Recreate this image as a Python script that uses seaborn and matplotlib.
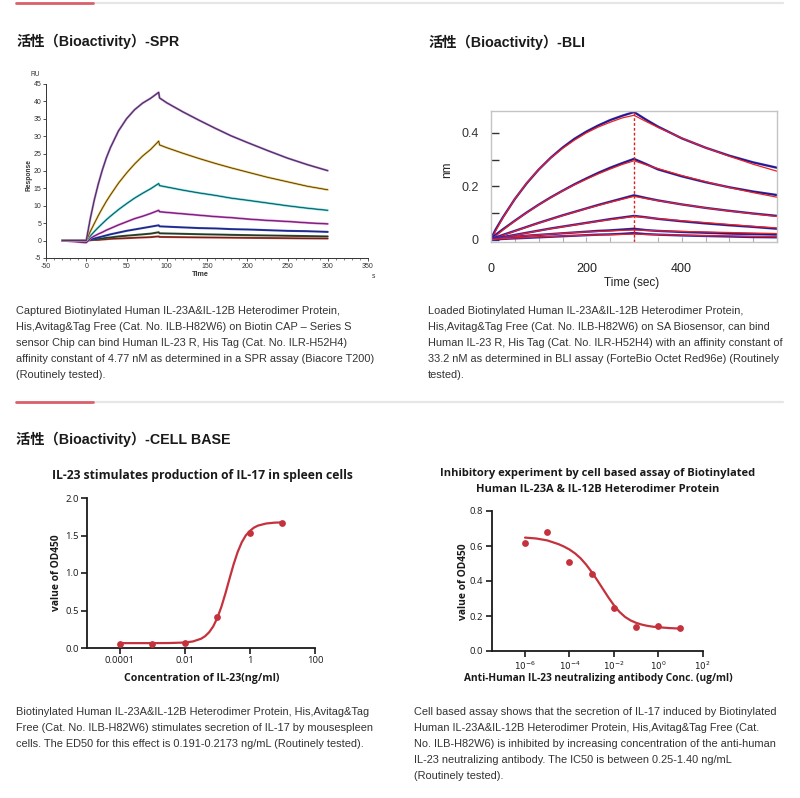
import matplotlib
matplotlib.use("Agg")
import matplotlib.pyplot as plt
from matplotlib.lines import Line2D
from matplotlib.ticker import MultipleLocator, FixedLocator, NullLocator
import seaborn as sns

# ---------------- data ----------------
# SPR sensorgram (Biacore), time in s, response in RU
spr_time = [-30, 0, 5, 10, 15, 20, 25, 30, 40, 50, 60, 70, 80, 90, 91,
            100, 120, 140, 160, 180, 200, 225, 250, 275, 300]
spr_c1 = [0, 0, 6.3, 11.7, 16.3, 20.3, 23.8, 26.7, 31.5, 35.0, 37.6, 39.5, 40.9, 42.6, 41.0,
          39.6, 37.0, 34.6, 32.3, 30.1, 28.2, 25.9, 23.7, 21.8, 20.1]
spr_c2 = [0, 0, 2.6, 4.9, 7.2, 9.3, 11.3, 13.1, 16.5, 19.4, 22.0, 24.3, 26.2, 28.6, 27.5,
          26.7, 25.1, 23.6, 22.2, 20.9, 19.7, 18.2, 16.9, 15.6, 14.6]
spr_c3 = [0, 0, 1.3, 2.6, 3.8, 4.9, 6.0, 7.0, 8.9, 10.6, 12.2, 13.6, 14.9, 16.4, 15.8,
          15.4, 14.5, 13.7, 13.0, 12.2, 11.6, 10.8, 10.0, 9.3, 8.7]
spr_c4 = [0, -0.6, 0.6, 1.3, 1.9, 2.4, 3.0, 3.5, 4.5, 5.4, 6.3, 7.0, 7.8, 8.7, 8.3,
          8.1, 7.7, 7.3, 6.9, 6.6, 6.2, 5.8, 5.5, 5.1, 4.8]
spr_c5 = [0, 0, 0.3, 0.6, 0.9, 1.2, 1.5, 1.8, 2.3, 2.8, 3.2, 3.6, 4.0, 4.4, 4.1,
          4.0, 3.8, 3.6, 3.5, 3.3, 3.2, 3.0, 2.8, 2.7, 2.5]
spr_c6 = [0, 0, 0.2, 0.3, 0.5, 0.6, 0.8, 0.9, 1.2, 1.4, 1.6, 1.8, 2.0, 2.4, 2.1,
          2.05, 1.94, 1.84, 1.75, 1.65, 1.57, 1.47, 1.38, 1.29, 1.2]
spr_c7 = [0, 0, 0.1, 0.2, 0.2, 0.3, 0.4, 0.5, 0.6, 0.7, 0.8, 0.9, 1.0, 1.2, 1.05,
          1.03, 0.98, 0.93, 0.88, 0.83, 0.79, 0.74, 0.69, 0.64, 0.6]
spr_colors = ["#a065c0", "#e5b43c", "#3ccdd5", "#d650d4", "#2b3fd0", "#3a5a3a", "#c83a2e"]

# BLI sensorgram (Octet), time in sec, shift in nm
bli_time = [0, 10, 25, 50, 75, 100, 125, 150, 175, 200, 225, 250, 275, 300,
            325, 350, 400, 450, 500, 550, 600]
bli_fit_a = [0, 0.035, 0.083, 0.153, 0.213, 0.263, 0.306, 0.342, 0.373, 0.400, 0.422, 0.440, 0.456, 0.466,
             0.443, 0.421, 0.381, 0.345, 0.313, 0.283, 0.257]
bli_raw_a = [0.005, 0.040, 0.085, 0.153, 0.212, 0.263, 0.307, 0.345, 0.378, 0.405, 0.428, 0.448, 0.464, 0.478,
             0.450, 0.424, 0.380, 0.345, 0.315, 0.290, 0.270]
bli_fit_b = [0, 0.015, 0.037, 0.071, 0.102, 0.131, 0.158, 0.183, 0.206, 0.227, 0.247, 0.265, 0.282, 0.296,
             0.281, 0.267, 0.241, 0.218, 0.196, 0.177, 0.160]
bli_raw_b = [0.005, 0.020, 0.040, 0.072, 0.103, 0.132, 0.159, 0.184, 0.208, 0.230, 0.251, 0.270, 0.287, 0.303,
             0.284, 0.264, 0.238, 0.216, 0.197, 0.181, 0.168]
bli_fit_c = [0, 0.007, 0.017, 0.033, 0.048, 0.063, 0.077, 0.091, 0.104, 0.117, 0.129, 0.141, 0.152, 0.163,
             0.155, 0.147, 0.133, 0.120, 0.108, 0.098, 0.088]
bli_raw_c = [0.004, 0.010, 0.019, 0.034, 0.049, 0.064, 0.078, 0.092, 0.105, 0.118, 0.131, 0.143, 0.155, 0.167,
             0.157, 0.148, 0.133, 0.120, 0.109, 0.099, 0.090]
bli_fit_d = [0, 0.004, 0.009, 0.018, 0.026, 0.034, 0.042, 0.049, 0.056, 0.063, 0.070, 0.076, 0.082, 0.088,
             0.084, 0.080, 0.072, 0.065, 0.058, 0.051, 0.045]
bli_raw_d = [0.003, 0.007, 0.011, 0.019, 0.027, 0.035, 0.043, 0.050, 0.057, 0.064, 0.071, 0.078, 0.084, 0.090,
             0.085, 0.079, 0.070, 0.062, 0.055, 0.049, 0.042]
bli_fit_e = [0, 0.004, 0.008, 0.012, 0.016, 0.019, 0.022, 0.025, 0.028, 0.030, 0.032, 0.034, 0.036, 0.037,
             0.036, 0.034, 0.032, 0.030, 0.028, 0.026, 0.024]
bli_raw_e = [0.002, 0.005, 0.008, 0.012, 0.016, 0.019, 0.022, 0.025, 0.028, 0.031, 0.034, 0.036, 0.039, 0.042,
             0.037, 0.034, 0.030, 0.027, 0.024, 0.022, 0.020]
bli_fit_f = [0, 0.003, 0.005, 0.007, 0.009, 0.011, 0.013, 0.015, 0.016, 0.018, 0.019, 0.020, 0.021, 0.022,
             0.021, 0.020, 0.018, 0.016, 0.015, 0.013, 0.012]
bli_raw_f = [0.001, 0.002, 0.004, 0.006, 0.008, 0.010, 0.012, 0.014, 0.016, 0.018, 0.020, 0.021, 0.023, 0.026,
             0.022, 0.020, 0.017, 0.015, 0.013, 0.011, 0.010]
bli_switch = [300, 300]
bli_switch_y = [-0.0075, 0.482]

# Cell assay 1: IL-23 stimulates IL-17
cell1_conc = [0.0001, 0.001, 0.01, 0.1, 1, 10]
cell1_od = [0.06, 0.06, 0.07, 0.42, 1.54, 1.67]
cell1_fit_conc = [1e-4, 1e-3, 10**-2.5, 1e-2, 10**-1.75, 10**-1.5, 10**-1.375, 10**-1.25, 10**-1.125,
                  1e-1, 10**-0.875, 10**-0.75, 10**-0.625, 10**-0.5, 10**-0.375, 10**-0.25, 10**-0.125,
                  1, 10**0.125, 10**0.25, 10**0.5, 10**0.75, 10]
cell1_fit_od = [0.065, 0.065, 0.066, 0.073, 0.087, 0.123, 0.157, 0.210, 0.288,
                0.400, 0.548, 0.728, 0.924, 1.114, 1.279, 1.408, 1.501,
                1.560, 1.605, 1.632, 1.660, 1.671, 1.675]
cell1_xticks = [1e-4, 1e-2, 1, 100]
cell1_xticklabels = ["0.0001", "0.01", "1", "100"]

# Cell assay 2: neutralizing antibody inhibition
cell2_conc = [1e-6, 1e-5, 1e-4, 1e-3, 1e-2, 1e-1, 1, 10]
cell2_od = [0.619, 0.680, 0.509, 0.440, 0.246, 0.137, 0.141, 0.131]
cell2_fit_conc = [1e-6, 10**-5.5, 1e-5, 10**-4.5, 10**-4.25, 1e-4, 10**-3.75, 10**-3.5, 10**-3.25,
                  1e-3, 10**-2.75, 10**-2.5, 10**-2.25, 1e-2, 10**-1.75, 10**-1.5, 10**-1.25,
                  1e-1, 10**-0.75, 10**-0.5, 10**-0.25, 1, 10**0.5, 10]
cell2_fit_od = [0.648, 0.643, 0.632, 0.611, 0.597, 0.580, 0.558, 0.530, 0.494,
                0.452, 0.405, 0.356, 0.307, 0.262, 0.224, 0.195, 0.175,
                0.161, 0.151, 0.144, 0.139, 0.136, 0.131, 0.128]
cell2_xticks = [1e-6, 1e-4, 1e-2, 1, 100]
cell2_xticklabels = ["$10^{-6}$", "$10^{-4}$", "$10^{-2}$", "$10^{0}$", "$10^{2}$"]

# text
title_spr = "活性（Bioactivity）-SPR"
title_bli = "活性（Bioactivity）-BLI"
title_cell = "活性（Bioactivity）-CELL BASE"
cell1_title = "IL-23 stimulates production of IL-17 in spleen cells"
cell2_title = ["Inhibitory experiment by cell based assay of Biotinylated",
               "Human IL-23A & IL-12B Heterodimer Protein"]
spr_text = ["Captured Biotinylated Human IL-23A&IL-12B Heterodimer Protein,",
            "His,Avitag&Tag Free (Cat. No. ILB-H82W6) on Biotin CAP – Series S",
            "sensor Chip can bind Human IL-23 R, His Tag (Cat. No. ILR-H52H4)",
            "affinity constant of 4.77 nM as determined in a SPR assay (Biacore T200)",
            "(Routinely tested)."]
bli_text = ["Loaded Biotinylated Human IL-23A&IL-12B Heterodimer Protein,",
            "His,Avitag&Tag Free (Cat. No. ILB-H82W6) on SA Biosensor, can bind",
            "Human IL-23 R, His Tag (Cat. No. ILR-H52H4) with an affinity constant of",
            "33.2 nM as determined in BLI assay (ForteBio Octet Red96e) (Routinely",
            "tested)."]
cell1_text = ["Biotinylated Human IL-23A&IL-12B Heterodimer Protein, His,Avitag&Tag",
              "Free (Cat. No. ILB-H82W6) stimulates secretion of IL-17 by mousespleen",
              "cells. The ED50 for this effect is 0.191-0.2173 ng/mL (Routinely tested)."]
cell2_text = ["Cell based assay shows that the secretion of IL-17 induced by Biotinylated",
              "Human IL-23A&IL-12B Heterodimer Protein, His,Avitag&Tag Free (Cat.",
              "No. ILB-H82W6) is inhibited by increasing concentration of the anti-human",
              "IL-23 neutralizing antibody. The IC50 is between 0.25-1.40 ng/mL",
              "(Routinely tested)."]

# ---------------- figure ----------------
sns.set_theme(style="white")
plt.rcParams["font.family"] = ["Liberation Sans", "Noto Sans CJK SC", "DejaVu Sans"]
plt.rcParams["axes.facecolor"] = "none"
plt.rcParams["axes.unicode_minus"] = False

W, H = 800, 798
fig = plt.figure(figsize=(8, 7.98), dpi=100)
fig.patch.set_facecolor("white")


def fx(x):
    return x / W


def fy(y):
    return 1 - y / H


def box(x0, y0, x1, y1):
    return [fx(x0), fy(y1), (x1 - x0) / W, (y1 - y0) / H]


RED_BAR = "#d9606a"
GRAY_BAR = "#e6e6e6"
for yy in (2.5, 402):
    fig.add_artist(Line2D([fx(93), fx(783)], [fy(yy), fy(yy)], color=GRAY_BAR, lw=1.6))
    fig.add_artist(Line2D([fx(16), fx(93)], [fy(yy), fy(yy)], color=RED_BAR, lw=2.0))

TITLE_FAM = ["Liberation Sans", "Noto Sans CJK SC"]
fig.text(fx(16), fy(41), title_spr, fontsize=10.3, fontweight="bold", family=TITLE_FAM, va="center", color="#1a1a1a")
fig.text(fx(428), fy(42), title_bli, fontsize=10.3, fontweight="bold", family=TITLE_FAM, va="center", color="#1a1a1a")
fig.text(fx(16), fy(439), title_cell, fontsize=10.3, fontweight="bold", family=TITLE_FAM, va="center", color="#1a1a1a")

PARA = dict(fontsize=7.9, color="#333333", va="center", ha="left")
for lines, x0, y0 in ((spr_text, 16, 311), (bli_text, 428, 311), (cell1_text, 16, 712), (cell2_text, 414, 712)):
    for i, ln in enumerate(lines):
        fig.text(fx(x0), fy(y0 + 16 * i), ln, **PARA)

# ---------------- SPR ----------------
ax = fig.add_axes(box(46, 84, 368, 258))
for vals, col in zip([spr_c7, spr_c6, spr_c5, spr_c4, spr_c3, spr_c2, spr_c1], spr_colors[::-1]):
    sns.lineplot(x=spr_time, y=vals, ax=ax, color=col, lw=1.5, estimator=None, sort=False)
    sns.lineplot(x=spr_time, y=vals, ax=ax, color="#202020", lw=0.45, estimator=None, sort=False)
ax.set_xlim(-50, 350)
ax.set_ylim(-5, 45)
ax.xaxis.set_major_locator(MultipleLocator(50))
ax.xaxis.set_minor_locator(MultipleLocator(10))
ax.yaxis.set_major_locator(MultipleLocator(5))
for s in ("top", "right"):
    ax.spines[s].set_visible(False)
for s in ("left", "bottom"):
    ax.spines[s].set_color("#333333")
    ax.spines[s].set_linewidth(0.7)
ax.tick_params(which="major", direction="out", length=2.2, width=0.6, labelsize=5.0, pad=1.2,
               colors="#333333", left=True, bottom=True)
ax.tick_params(which="minor", direction="out", length=1.2, width=0.5, colors="#555555", bottom=True)
ax.set_xlabel("")
ax.set_ylabel("")
fig.text(fx(35), fy(75), "RU", fontsize=4.8, color="#333333", ha="center", va="center")
fig.text(fx(29), fy(175), "Response", fontsize=4.8, fontweight="bold", color="#333333",
         rotation=90, ha="center", va="center")
fig.text(fx(200), fy(275), "Time", fontsize=5.2, fontweight="bold", color="#333333", ha="center", va="center")
fig.text(fx(373), fy(276), "s", fontsize=4.8, color="#333333", ha="center", va="center")

# ---------------- BLI ----------------
ax = fig.add_axes(box(491, 111, 777, 242))
BLUE = "#2c2cc8"
RED = "#ee2020"
for raw, fit in ((bli_raw_a, bli_fit_a), (bli_raw_b, bli_fit_b), (bli_raw_c, bli_fit_c),
                 (bli_raw_d, bli_fit_d), (bli_raw_e, bli_fit_e), (bli_raw_f, bli_fit_f)):
    sns.lineplot(x=bli_time, y=raw, ax=ax, color=BLUE, lw=1.7, estimator=None, sort=False)
    sns.lineplot(x=bli_time, y=raw, ax=ax, color="#301050", lw=0.6, estimator=None, sort=False)
    sns.lineplot(x=bli_time, y=fit, ax=ax, color=RED, lw=0.9, estimator=None, sort=False)
sns.lineplot(x=bli_switch, y=bli_switch_y, ax=ax, color="#dd2020", lw=1.0, linestyle=(0, (2, 1.5)),
             estimator=None, sort=False)
ax.set_xlim(0, 600)
ax.set_ylim(-0.0075, 0.482)
ax.xaxis.set_major_locator(FixedLocator([0, 200, 400]))
ax.xaxis.set_minor_locator(MultipleLocator(50))
ax.yaxis.set_major_locator(FixedLocator([0, 0.2, 0.4]))
ax.yaxis.set_minor_locator(FixedLocator([0.1, 0.3]))
ax.set_yticklabels(["0", "0.2", "0.4"])
for s in ax.spines.values():
    s.set_visible(True)
    s.set_color("#c4c4c4")
    s.set_linewidth(1.0)
ax.tick_params(axis="y", which="both", direction="in", length=6, width=1.0, colors="#333333",
               labelsize=9, pad=9, left=True)
ax.tick_params(axis="x", which="both", direction="in", length=3.5, width=0.8, color="#b0b0b0",
               labelcolor="#222222", labelsize=9, pad=15, bottom=True)
ax.set_xlabel("")
ax.set_ylabel("")
fig.text(fx(447), fy(170), "nm", fontsize=8.5, color="#222222", rotation=90, ha="center", va="center")
fig.text(fx(632), fy(283), "Time (sec)", fontsize=8.5, color="#222222", ha="center", va="center")

# ---------------- cell assays ----------------
PRISM_RED = "#c4323d"
PFAM = ["Open Sans", "DejaVu Sans"]
LBL = dict(family=PFAM, fontweight="bold", color="#1a1a1a")


def prism_axes(rect):
    a = fig.add_axes(rect)
    a.set_xscale("log")
    for s in ("top", "right"):
        a.spines[s].set_visible(False)
    for s in ("left", "bottom"):
        a.spines[s].set_color("#1a1a1a")
        a.spines[s].set_linewidth(1.3)
    a.tick_params(which="major", direction="out", length=4, width=1.2, colors="#1a1a1a",
                  labelsize=6.8, pad=2, left=True, bottom=True)
    a.tick_params(which="minor", left=False, bottom=False)
    return a


ax = prism_axes(box(87, 498, 315, 648))
sns.lineplot(x=cell1_fit_conc, y=cell1_fit_od, ax=ax, color=PRISM_RED, lw=1.6, estimator=None, sort=False)
sns.scatterplot(x=cell1_conc, y=cell1_od, ax=ax, color=PRISM_RED, s=24, linewidth=0, zorder=3)
ax.set_xlim(1e-5, 100)
ax.set_ylim(0, 2.0)
ax.xaxis.set_major_locator(FixedLocator(cell1_xticks))
ax.xaxis.set_minor_locator(NullLocator())
ax.set_xticklabels(cell1_xticklabels)
ax.yaxis.set_major_locator(MultipleLocator(0.5))
ax.set_yticklabels([f"{v:.1f}" for v in ax.get_yticks()])
for t in ax.get_xticklabels() + ax.get_yticklabels():
    t.set_family(PFAM)
ax.set_xlabel("")
ax.set_ylabel("")
fig.text(fx(202), fy(475), cell1_title, fontsize=8.7, ha="center", va="center", **LBL)
fig.text(fx(57), fy(573), "value of OD450", fontsize=7.4, rotation=90, ha="center", va="center", **LBL)
fig.text(fx(202), fy(678), "Concentration of IL-23(ng/ml)", fontsize=7.6, ha="center", va="center", **LBL)

ax = prism_axes(box(491.7, 511, 702.7, 651))
sns.lineplot(x=cell2_fit_conc, y=cell2_fit_od, ax=ax, color=PRISM_RED, lw=1.6, estimator=None, sort=False)
sns.scatterplot(x=cell2_conc, y=cell2_od, ax=ax, color=PRISM_RED, s=24, linewidth=0, zorder=3)
ax.set_xlim(10 ** -7.5, 100)
ax.set_ylim(0, 0.8)
ax.xaxis.set_major_locator(FixedLocator(cell2_xticks))
ax.xaxis.set_minor_locator(NullLocator())
ax.set_xticklabels(cell2_xticklabels)
ax.yaxis.set_major_locator(MultipleLocator(0.2))
ax.set_yticklabels([f"{v:.1f}" for v in ax.get_yticks()])
ax.tick_params(axis="x", labelsize=6.3)
for t in ax.get_yticklabels():
    t.set_family(PFAM)
ax.set_xlabel("")
ax.set_ylabel("")
fig.text(fx(598), fy(473), cell2_title[0], fontsize=8.0, ha="center", va="center", **LBL)
fig.text(fx(598), fy(490), cell2_title[1], fontsize=8.0, ha="center", va="center", **LBL)
fig.text(fx(463), fy(582), "value of OD450", fontsize=7.4, rotation=90, ha="center", va="center", **LBL)
fig.text(fx(598), fy(678), "Anti-Human IL-23 neutralizing antibody Conc. (ug/ml)", fontsize=7.3,
         ha="center", va="center", **LBL)

fig.savefig("out.png", dpi=100, facecolor="white")
